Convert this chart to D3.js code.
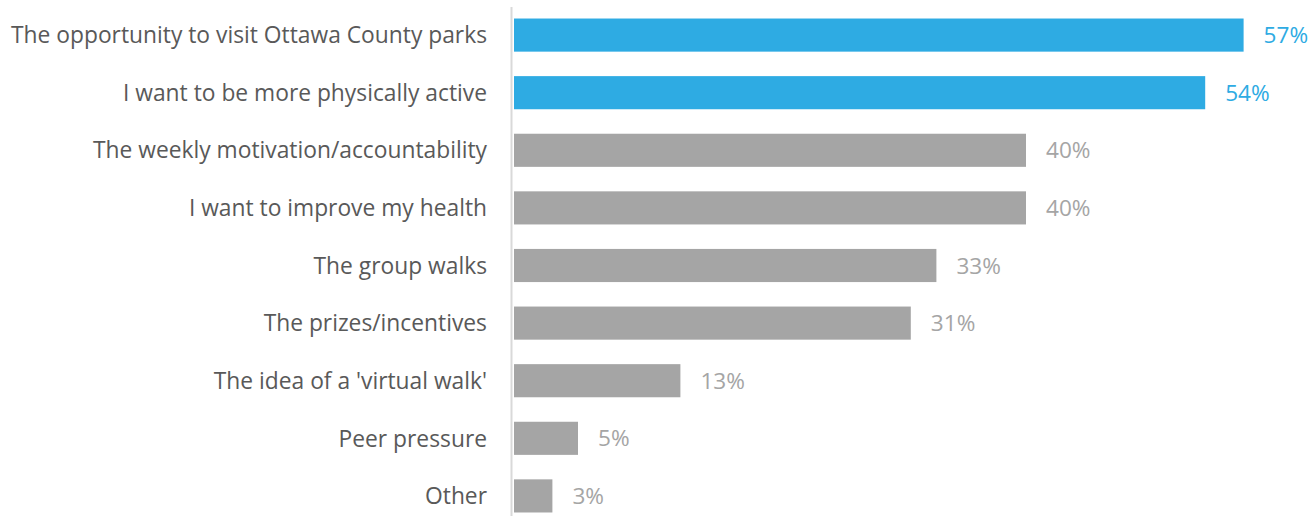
<!DOCTYPE html>
<html>
<head>
<meta charset="utf-8">
<script src="https://cdn.jsdelivr.net/npm/d3@7"></script>
<style>
  html, body { margin: 0; padding: 0; background: #ffffff; }
  svg { display: block; font-family: "Open Sans", "Noto Sans", sans-serif; }
</style>
</head>
<body>
<svg id="chart" width="1310" height="516"></svg>
<script>
// Reasons for joining the walking program (share of respondents)
const categories = [
  "The opportunity to visit Ottawa County parks",
  "I want to be more physically active",
  "The weekly motivation/accountability",
  "I want to improve my health",
  "The group walks",
  "The prizes/incentives",
  "The idea of a 'virtual walk'",
  "Peer pressure",
  "Other"
];
const values = [57, 54, 40, 40, 33, 31, 13, 5, 3];
const highlighted = [true, true, false, false, false, false, false, false, false];

const BLUE = "#2eabe3";
const GRAY = "#a5a5a5";

const svg = d3.select("#chart");
const left = 514;

const x = d3.scaleLinear().domain([0, 60]).range([left, left + 768]);
const y = d3.scaleBand()
  .domain(categories)
  .range([7, 524])
  .paddingInner(0.425)
  .paddingOuter(0.2);

const data = categories.map((c, i) => ({ c, v: values[i], hi: highlighted[i] }));

// vertical category axis line
svg.append("line")
  .attr("x1", left - 2.5).attr("x2", left - 2.5)
  .attr("y1", 7).attr("y2", 516)
  .attr("stroke", "#d9d9d9").attr("stroke-width", 2);

svg.selectAll("rect.bar").data(data).join("rect")
  .attr("class", "bar")
  .attr("x", x(0))
  .attr("y", d => y(d.c))
  .attr("width", d => x(d.v) - x(0))
  .attr("height", y.bandwidth())
  .attr("fill", d => d.hi ? BLUE : GRAY);

svg.selectAll("text.cat").data(data).join("text")
  .attr("class", "cat")
  .attr("x", 487)
  .attr("y", d => y(d.c) + y.bandwidth() / 2)
  .attr("dy", "0.36em")
  .attr("text-anchor", "end")
  .attr("font-size", 22.8)
  .attr("fill", "#595959")
  .text(d => d.c);

svg.selectAll("text.val").data(data).join("text")
  .attr("class", "val")
  .attr("x", d => x(d.v) + 20)
  .attr("y", d => y(d.c) + y.bandwidth() / 2)
  .attr("dy", "0.36em")
  .attr("font-size", 22.6)
  .attr("fill", d => d.hi ? BLUE : GRAY)
  .text(d => d.v + "%");
</script>
</body>
</html>
